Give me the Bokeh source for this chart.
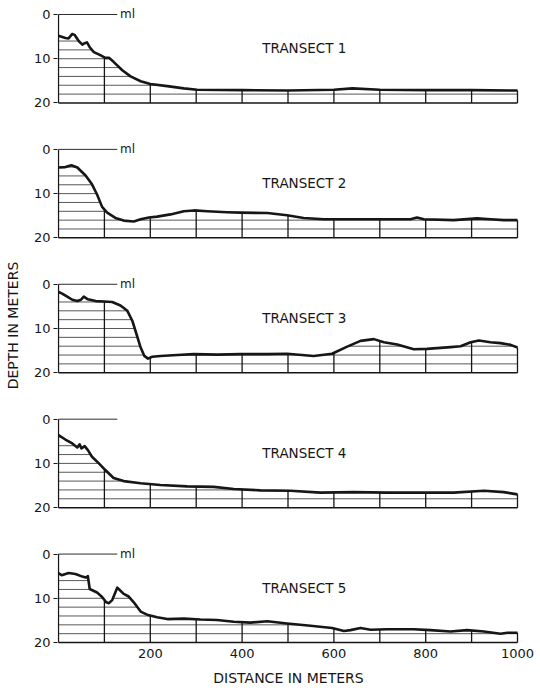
import numpy as np
from bokeh.plotting import figure
from bokeh.models import Range1d, FixedTicker, CustomJSTickFormatter
from bokeh.embed import file_html
from bokeh.resources import INLINE
from bokeh.core.properties import value

# ---- data (distance in m, depth in m) ----
T1_X = [0, 15, 22, 30, 35, 44, 52, 57, 62, 68, 77, 91, 102, 110, 120, 139, 157, 179,
        200, 237, 273, 302, 400, 500, 600, 640, 700, 800, 900, 1000]
T1_D = [4.8, 5.3, 5.4, 4.4, 4.6, 6.0, 6.8, 6.5, 6.3, 7.4, 8.5, 9.2, 9.8, 9.8, 10.7, 12.6, 14.0, 15.1,
        15.7, 16.2, 16.7, 17.0, 17.1, 17.2, 17.0, 16.7, 17.0, 17.1, 17.1, 17.2]

T2_X = [0, 15, 28, 41, 59, 73, 84, 95, 106, 124, 142, 164, 179, 197, 215, 244, 273, 295,
        324, 367, 397, 455, 498, 534, 578, 643, 701, 767, 781, 796, 861, 912, 941, 970, 1000]
T2_D = [4.1, 4.0, 3.6, 4.1, 5.9, 7.9, 10.2, 13.0, 14.3, 15.5, 16.1, 16.3, 15.8, 15.4, 15.2, 14.7, 14.0, 13.8,
        14.0, 14.2, 14.3, 14.4, 14.9, 15.5, 15.8, 15.8, 15.8, 15.8, 15.4, 15.8, 16.0, 15.6, 15.8, 16.0, 16.0]

T3_X = [0, 8, 19, 30, 41, 49, 55, 64, 81, 99, 117, 135, 150, 161, 170, 179, 187, 195, 204,
        222, 259, 295, 346, 397, 455, 498, 556, 596, 629, 658, 687, 709, 738, 774, 803, 854,
        876, 898, 916, 941, 963, 985, 1000]
T3_D = [1.7, 2.1, 2.8, 3.5, 3.8, 3.5, 2.8, 3.4, 3.8, 3.9, 4.0, 4.8, 6.0, 8.3, 11.3, 14.3, 16.2, 16.8, 16.4,
        16.2, 16.0, 15.8, 15.9, 15.8, 15.8, 15.7, 16.2, 15.7, 14.1, 12.8, 12.4, 13.1, 13.6, 14.7, 14.6, 14.2,
        14.0, 13.1, 12.7, 13.1, 13.3, 13.7, 14.3]

T4_X = [0, 15, 30, 41, 46, 50, 57, 64, 73, 88, 102, 120, 142, 179, 222, 280, 338, 382, 440,
        505, 571, 643, 716, 789, 861, 927, 970, 1000]
T4_D = [3.6, 4.6, 5.5, 6.4, 5.7, 6.6, 6.1, 7.0, 8.5, 10.0, 11.5, 13.3, 14.0, 14.5, 14.9, 15.2, 15.3, 15.8, 16.1,
        16.2, 16.6, 16.5, 16.6, 16.6, 16.6, 16.2, 16.5, 17.0]

T5_X = [0, 7, 22, 37, 52, 59, 64, 68, 84, 95, 104, 110, 117, 128, 135, 142, 153, 164, 179, 193,
        215, 237, 273, 309, 345, 382, 418, 455, 498, 549, 596, 622, 636, 658, 680, 716, 774,
        810, 854, 890, 927, 963, 978, 1000]
T5_D = [4.3, 4.8, 4.3, 4.5, 5.1, 5.3, 5.0, 7.9, 8.7, 9.7, 10.9, 11.1, 10.4, 7.6, 8.3, 9.0, 9.6, 10.9, 13.0, 13.7,
        14.3, 14.7, 14.6, 14.8, 14.9, 15.3, 15.5, 15.2, 15.7, 16.2, 16.7, 17.4, 17.2, 16.7, 17.1, 17.0, 17.0,
        17.2, 17.5, 17.2, 17.5, 18.0, 17.8, 17.8]

TRANSECT_X = [T1_X, T2_X, T3_X, T4_X, T5_X]
TRANSECT_D = [T1_D, T2_D, T3_D, T4_D, T5_D]
TITLES = ["TRANSECT 1", "TRANSECT 2", "TRANSECT 3", "TRANSECT 4", "TRANSECT 5"]
ML_LABELS = ["ml", "ml", "ml", "", "ml"]

DIST_TICKS = [200, 400, 600, 800, 1000]
DEPTH_TICKS = [0, 10, 20]
HATCH_DEPTHS = [2, 4, 6, 8, 10, 12, 14, 16, 18]
GRID_X = [100, 200, 300, 400, 500, 600, 700, 800, 900, 1000]
MAX_DEPTH = 20
MAX_DIST = 1000
ML_LEN = 128
TITLE_X = 444
TITLE_DEPTH = 7.6

PANEL_STEP = 30.5   # vertical spacing between stacked panels, in depth units

INK = "#161616"
FONT = "DejaVu Sans"

p = figure(width=540, height=688,
           x_range=Range1d(-2.18, 1004.36), y_range=Range1d(142.9, -2.26),
           output_backend="svg", toolbar_location=None,
           min_border_left=57, min_border_right=21, min_border_top=4, min_border_bottom=42)
p.outline_line_color = None
p.grid.visible = False
p.background_fill_color = "white"
p.border_fill_color = "white"

xs_dense = np.arange(0, MAX_DIST + 0.25, 0.5)

for i in range(5):
    off = i * PANEL_STEP
    X = np.array(TRANSECT_X[i], dtype=float)
    D = np.array(TRANSECT_D[i], dtype=float)
    ds = np.interp(xs_dense, X, D)

    # horizontal hatch lines below the bottom profile
    hx0, hx1, hy = [], [], []
    for h in HATCH_DEPTHS:
        mask = ds <= h
        if not mask.any():
            continue
        m = np.concatenate([[False], mask, [False]]).astype(int)
        dm = np.diff(m)
        starts = np.where(dm == 1)[0]
        ends = np.where(dm == -1)[0] - 1
        for s, e in zip(starts, ends):
            hx0.append(xs_dense[s]); hx1.append(xs_dense[e]); hy.append(off + h)
    p.segment(x0=hx0, y0=hy, x1=hx1, y1=hy, line_color=INK, line_width=0.9, line_alpha=0.8)

    # vertical hatch lines every 100 m (last one is the right border)
    gx = np.array(GRID_X, dtype=float)
    top = np.interp(gx, X, D) + off
    p.segment(x0=gx, y0=top, x1=gx, y1=np.full_like(gx, off + MAX_DEPTH),
              line_color=INK, line_width=1.3)

    # bottom line and left axis line of this panel
    p.segment(x0=[0], y0=[off + MAX_DEPTH], x1=[MAX_DIST], y1=[off + MAX_DEPTH],
              line_color=INK, line_width=1.5)
    p.segment(x0=[0], y0=[off], x1=[0], y1=[off + MAX_DEPTH], line_color=INK, line_width=1.3)

    # mean-low line at depth 0
    p.segment(x0=[0], y0=[off], x1=[ML_LEN], y1=[off], line_color=INK, line_width=0.9)
    if ML_LABELS[i]:
        p.text(x=[ML_LEN + 6], y=[off], text=[ML_LABELS[i]], text_font=value(FONT),
               text_font_size="12px", text_baseline="middle", text_align="left", text_color=INK)

    # bottom profile
    p.line(X, D + off, line_color=INK, line_width=2.6, line_join="round")

    # panel title
    p.text(x=[TITLE_X], y=[off + TITLE_DEPTH], text=[TITLES[i]], text_font=value(FONT),
           text_font_size="13.5px", text_baseline="middle", text_align="left", text_color=INK)

# y axis: depth ticks for every panel
p.yaxis.ticker = FixedTicker(ticks=[i * PANEL_STEP + d for i in range(5) for d in DEPTH_TICKS])
p.yaxis.formatter = CustomJSTickFormatter(args=dict(step=PANEL_STEP), code="""
    const k = Math.floor((tick + 0.5) / step);
    return String(Math.round(tick - k * step));
""")
p.yaxis.axis_line_color = None
p.yaxis.major_tick_out = 4
p.yaxis.major_tick_in = 0
p.yaxis.major_tick_line_color = INK
p.yaxis.major_tick_line_width = 1.2
p.yaxis.minor_tick_line_color = None
p.yaxis.major_label_standoff = 3
p.yaxis.major_label_text_font = FONT
p.yaxis.major_label_text_font_size = "13px"
p.yaxis.major_label_text_color = INK
p.yaxis.axis_label = "DEPTH IN METERS"
p.yaxis.axis_label_text_font = FONT
p.yaxis.axis_label_text_font_size = "14px"
p.yaxis.axis_label_text_font_style = "normal"
p.yaxis.axis_label_text_color = INK
p.yaxis.axis_label_standoff = 10

# x axis: distance
p.xaxis.ticker = FixedTicker(ticks=DIST_TICKS)
p.xaxis.axis_line_color = None
p.xaxis.major_tick_line_color = None
p.xaxis.minor_tick_line_color = None
p.xaxis.major_tick_out = 0
p.xaxis.major_tick_in = 0
p.xaxis.major_label_standoff = 2
p.xaxis.major_label_text_font = FONT
p.xaxis.major_label_text_font_size = "13px"
p.xaxis.major_label_text_color = INK
p.xaxis.axis_label = "DISTANCE IN METERS"
p.xaxis.axis_label_text_font = FONT
p.xaxis.axis_label_text_font_size = "14px"
p.xaxis.axis_label_text_font_style = "normal"
p.xaxis.axis_label_text_color = INK
p.xaxis.axis_label_standoff = 9

open("out.html", "w").write(file_html(p, INLINE))
